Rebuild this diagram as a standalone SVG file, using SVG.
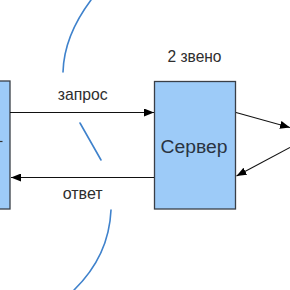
<svg xmlns="http://www.w3.org/2000/svg" width="290" height="290" viewBox="0 0 290 290">
<style>
.box{fill:#9dcbf8;stroke:#3a3f47;stroke-width:1.3}
.conn{stroke:#111;stroke-width:1.1;fill:none}
.curve{stroke:#3f82cc;stroke-width:1.6;fill:none;stroke-linecap:round}
.lbl{font-family:"Liberation Sans",Arial,sans-serif;font-size:17px;fill:#2e2e2e}
.name{font-family:"Liberation Sans",Arial,sans-serif;font-size:18px;fill:#2a3442}
</style>
<defs>
<marker id="ah" viewBox="0 0 10 8" refX="10" refY="4" markerWidth="10" markerHeight="8" markerUnits="userSpaceOnUse" orient="auto">
<path d="M0,0 L10,4 L0,8 Z" fill="#000"/>
</marker>
</defs>
<rect width="290" height="290" fill="#fff"/>
<g id="boundary">
<path class="curve" d="M91,0 Q64,36 63,72"/>
<path class="curve" d="M80,123 L101,160"/>
<path class="curve" d="M111,210 Q109,256 74,290"/>
</g>
<g id="client">
<rect class="box" x="-80" y="81" width="90" height="128"/>
<line x1="0" y1="141.5" x2="2.5" y2="141.5" stroke="#333" stroke-width="1.2"/>
</g>
<g id="server">
<rect class="box" x="154.5" y="81.5" width="81" height="127.5"/>
<text class="name" x="160.5" y="153.3" textLength="67" lengthAdjust="spacingAndGlyphs">Сервер</text>
</g>
<text class="lbl" x="167.5" y="61.7" textLength="54" lengthAdjust="spacingAndGlyphs">2 звено</text>
<g id="connectors">
<line class="conn" x1="10" y1="112.5" x2="154" y2="112.5" marker-end="url(#ah)"/>
<line class="conn" x1="154" y1="177.5" x2="11" y2="177.5" marker-end="url(#ah)"/>
<line class="conn" x1="236" y1="112.5" x2="290" y2="127.5" marker-end="url(#ah)"/>
<line class="conn" x1="290" y1="147.5" x2="236.5" y2="176" marker-end="url(#ah)"/>
<text class="lbl" x="57.7" y="100" textLength="50" lengthAdjust="spacingAndGlyphs">запрос</text>
<text class="lbl" x="62.7" y="199" textLength="40" lengthAdjust="spacingAndGlyphs">ответ</text>
</g>
</svg>
